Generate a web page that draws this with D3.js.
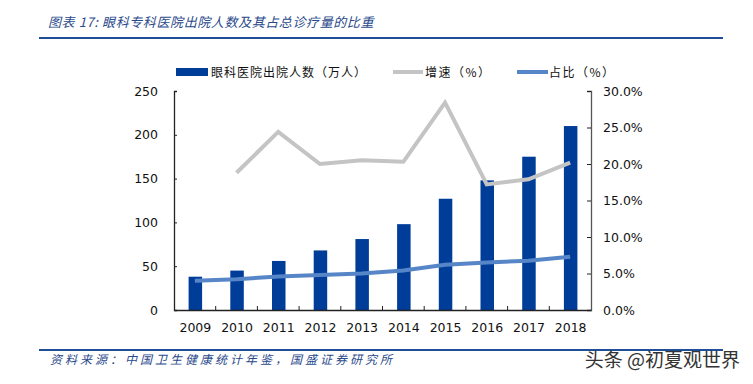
<!DOCTYPE html>
<html>
<head>
<meta charset="utf-8">
<script src="https://cdn.jsdelivr.net/npm/d3@7"></script>
<style>
  body { margin: 0; background: #fff; }
  svg { display: block; font-family: Tahoma, "DejaVu Sans", "Noto Sans CJK SC", sans-serif; }
</style>
</head>
<body>
<div id="chart"></div>
<script>
var years = ['2009', '2010', '2011', '2012', '2013', '2014', '2015', '2016', '2017', '2018'];
var patients = [38, 45, 56, 68, 81, 98, 127, 148, 175, 210];
var growth = [null, 18.8, 24.4, 20.0, 20.5, 20.3, 28.4, 17.2, 17.9, 20.2];
var share = [4.0, 4.2, 4.6, 4.8, 5.0, 5.4, 6.2, 6.5, 6.75, 7.3];
var leftTicks = [0, 50, 100, 150, 200, 250];
var rightTicks = [0, 5, 10, 15, 20, 25, 30];

var width = 753, height = 384;
var margin = {top: 91, right: 162, bottom: 74, left: 174};
var blue = '#003d99', grey = '#c4c4c4', lineBlue = '#5686c8', navy = '#1f4e96';

var svg = d3.select('#chart').append('svg')
    .attr('width', width)
    .attr('height', height);

// title + rules
svg.append('text')
    .attr('x', 48).attr('y', 27)
    .attr('font-size', 13)
    .attr('font-style', 'italic')
    .attr('letter-spacing', 0.6)
    .attr('fill', '#2b4a8c')
    .style('font-family', '"Noto Sans CJK SC", sans-serif')
    .text('图表 17:  眼科专科医院出院人数及其占总诊疗量的比重');
svg.append('line')
    .attr('x1', 39).attr('x2', 723).attr('y1', 38).attr('y2', 38)
    .attr('stroke', navy).attr('stroke-width', 2);
svg.append('line')
    .attr('x1', 39).attr('x2', 723).attr('y1', 350).attr('y2', 350)
    .attr('stroke', navy).attr('stroke-width', 2);
svg.append('text')
    .attr('x', 50).attr('y', 364)
    .attr('font-size', 12)
    .attr('font-style', 'italic')
    .attr('letter-spacing', 3)
    .attr('fill', '#2b4a8c')
    .style('font-family', '"Noto Sans CJK SC", sans-serif')
    .text('资料来源：中国卫生健康统计年鉴，国盛证券研究所');
svg.append('text')
    .attr('x', 740).attr('y', 367)
    .attr('text-anchor', 'end')
    .attr('font-size', 19)
    .attr('fill', '#333')
    .style('font-family', '"Noto Sans CJK SC", sans-serif')
    .text('头条 @初夏观世界');

var x = d3.scaleBand()
    .domain(years)
    .range([margin.left, width - margin.right]);
var yL = d3.scaleLinear().domain([0, 250]).range([height - margin.bottom, margin.top]);
var yR = d3.scaleLinear().domain([0, 30]).range([height - margin.bottom, margin.top]);

// bars
var barW = 13.5;
svg.selectAll('rect.bar')
    .data(patients)
    .enter()
    .append('rect')
    .attr('class', 'bar')
    .attr('x', function(d, i) { return x(years[i]) + x.bandwidth() / 2 - barW / 2 + 0.5; })
    .attr('y', function(d) { return yL(d); })
    .attr('width', barW)
    .attr('height', function(d) { return yL(0) - yL(d); })
    .attr('fill', blue);

// lines
var line = d3.line()
    .defined(function(d) { return d[1] != null; })
    .x(function(d) { return x(d[0]) + x.bandwidth() / 2; })
    .y(function(d) { return yR(d[1]); });

svg.append('path')
    .datum(years.map(function(y, i) { return [y, growth[i]]; }))
    .attr('d', line)
    .attr('fill', 'none')
    .attr('stroke', grey)
    .attr('stroke-width', 4);

svg.append('path')
    .datum(years.map(function(y, i) { return [y, share[i]]; }))
    .attr('d', line)
    .attr('fill', 'none')
    .attr('stroke', lineBlue)
    .attr('stroke-width', 4);

// axes
var axisColor = '#222';
var gL = svg.append('g')
    .attr('transform', 'translate(' + margin.left + ',0)')
    .call(d3.axisRight(yL).tickValues(leftTicks).tickSize(3).tickFormat(''));
var gR = svg.append('g')
    .attr('transform', 'translate(' + (width - margin.right) + ',0)')
    .call(d3.axisLeft(yR).tickValues(rightTicks).tickSize(4).tickFormat(''));
var gX = svg.append('g')
    .attr('transform', 'translate(0,' + (height - margin.bottom) + ')')
    .call(d3.axisBottom(x).tickSize(0).tickFormat(''));

[gL, gR, gX].forEach(function(g) {
    g.select('.domain').attr('stroke', axisColor).attr('stroke-width', 1.3);
    g.selectAll('.tick line').attr('stroke', axisColor);
});
gR.select('.domain').attr('stroke', '#555');

// x ticks between categories, pointing up
svg.selectAll('line.xtick')
    .data(years.slice(1))
    .enter()
    .append('line')
    .attr('class', 'xtick')
    .attr('x1', function(d) { return x(d); })
    .attr('x2', function(d) { return x(d); })
    .attr('y1', yL(0))
    .attr('y2', yL(0) - 4)
    .attr('stroke', axisColor);

// tick labels
svg.selectAll('text.yl')
    .data(leftTicks)
    .enter()
    .append('text')
    .attr('class', 'yl')
    .attr('x', 158)
    .attr('y', function(d) { return yL(d) + 4.5; })
    .attr('text-anchor', 'end')
    .attr('font-size', 12.5)
    .attr('fill', '#111')
    .text(function(d) { return d; });

svg.selectAll('text.yr')
    .data(rightTicks)
    .enter()
    .append('text')
    .attr('class', 'yr')
    .attr('x', 603)
    .attr('y', function(d) { return yR(d) + 4.5; })
    .attr('font-size', 12.5)
    .attr('fill', '#111')
    .text(function(d) { return d.toFixed(1) + '%'; });

svg.selectAll('text.xl')
    .data(years)
    .enter()
    .append('text')
    .attr('class', 'xl')
    .attr('x', function(d) { return x(d) + x.bandwidth() / 2 + 0.5; })
    .attr('y', 332)
    .attr('text-anchor', 'middle')
    .attr('font-size', 12.5)
    .attr('fill', '#111')
    .text(function(d) { return d; });

// legend
var lg = svg.append('g').style('font-family', '"Noto Sans CJK SC", sans-serif');
lg.append('rect').attr('x', 176).attr('y', 68).attr('width', 32).attr('height', 8).attr('fill', blue);
lg.append('text').attr('x', 211).attr('y', 76.5).attr('font-size', 12).attr('letter-spacing', 1).attr('fill', '#111').text('眼科医院出院人数（万人）');
lg.append('line').attr('x1', 393).attr('x2', 423).attr('y1', 72).attr('y2', 72).attr('stroke', grey).attr('stroke-width', 4);
lg.append('text').attr('x', 425).attr('y', 76.5).attr('font-size', 12).attr('letter-spacing', 1.5).attr('fill', '#111').text('增速（%）');
lg.append('line').attr('x1', 517).attr('x2', 548).attr('y1', 72).attr('y2', 72).attr('stroke', lineBlue).attr('stroke-width', 4);
lg.append('text').attr('x', 549).attr('y', 76.5).attr('font-size', 12).attr('letter-spacing', 1.5).attr('fill', '#111').text('占比（%）');
</script>
</body>
</html>
